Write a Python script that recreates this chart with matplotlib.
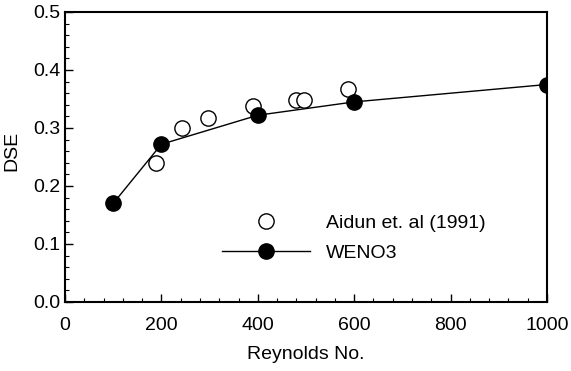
import numpy as np
import matplotlib.pyplot as plt
from matplotlib.ticker import MultipleLocator

plt.rcParams['font.family'] = ['Liberation Sans', 'DejaVu Sans']

# Aidun et. al (1991) の実験値
re_aidun = [188, 242, 297, 391, 479, 496, 588]
dse_aidun = [0.240, 0.300, 0.318, 0.338, 0.348, 0.348, 0.368]

# WENO3 の計算値
re_weno = [100, 200, 400, 600, 1000]
dse_weno = [0.170, 0.272, 0.322, 0.345, 0.375]

fig = plt.figure(figsize=(5.71, 3.71), dpi=100)
ax = fig.add_axes([65/571, 1 - 302/371, 482/571, 290/371])

ax.plot(re_aidun, dse_aidun, 'o', mfc='white', mec='black', mew=1.0, ms=11,
        label='Aidun et. al (1991)')
ax.plot(re_weno, dse_weno, '-o', color='black', lw=1.0, ms=11,
        label='WENO3')

ax.set_xlim(0, 1000)
ax.set_ylim(0, 0.5)
ax.xaxis.set_major_locator(MultipleLocator(200))
ax.xaxis.set_minor_locator(MultipleLocator(40))
ax.yaxis.set_major_locator(MultipleLocator(0.1))
ax.yaxis.set_minor_locator(MultipleLocator(0.02))
ax.yaxis.set_major_formatter(plt.FormatStrFormatter('%.1f'))
ax.tick_params(which='both', direction='in', top=False, right=False, labelsize=14)
ax.tick_params(axis='x', which='major', pad=10.5)
ax.tick_params(axis='y', which='major', pad=3)
ax.tick_params(which='major', length=6, width=1)
ax.tick_params(which='minor', length=3, width=0.8)
for s in ax.spines.values():
    s.set_linewidth(1.5)

ax.set_xlabel('Reynolds No.', fontsize=14, labelpad=9)
ax.set_ylabel('DSE', fontsize=14)
ax.yaxis.set_label_coords(-0.092, 0.52)

ax.legend(loc='upper left', bbox_to_anchor=(222/571, 1 - 214/371),
          bbox_transform=fig.transFigure, frameon=False,
          fontsize=14, handlelength=4.5, handletextpad=0.85, labelspacing=0.65,
          borderpad=0, borderaxespad=0)

fig.savefig('out.png', dpi=100)
